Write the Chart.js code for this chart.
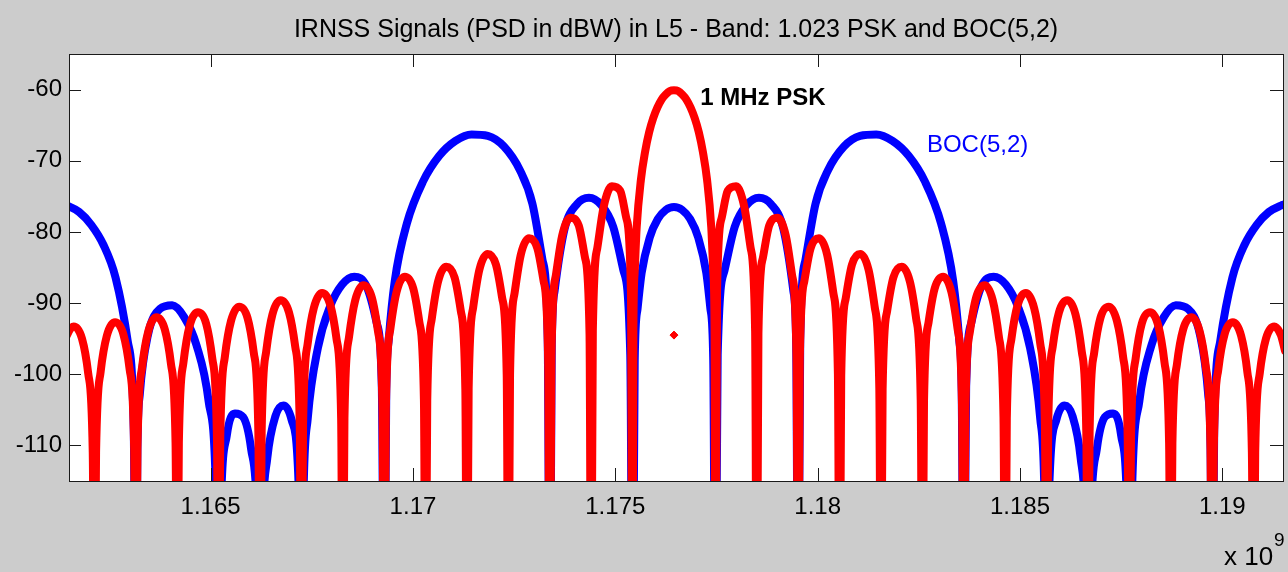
<!DOCTYPE html>
<html>
<head>
<meta charset="utf-8">
<title>IRNSS Signals PSD</title>
<script src="https://cdn.jsdelivr.net/npm/chart.js@4/dist/chart.umd.min.js"></script>
<style>
  html, body { margin: 0; padding: 0; background: #cccccc; }
  canvas { display: block; }
</style>
</head>
<body>
<canvas id="psdChart" width="1288" height="572"></canvas>
<script>
// L5 carrier, MHz
const carrierMHz = 1176.45;

// 1.023 MHz PSK: offset from carrier (MHz) and PSD (dBW); -140 = null below the axis
const pskOffsetMHz = [
  -15.099, -14.997, -14.834, -14.629, -14.475, -14.363, -14.322,
  -14.281, -14.169, -14.015, -13.811, -13.606, -13.452, -13.340, -13.299,
  -13.258, -13.146, -12.992, -12.788, -12.583, -12.429, -12.317, -12.276,
  -12.235, -12.123, -11.969, -11.765, -11.560, -11.406, -11.294, -11.253,
  -11.212, -11.100, -10.946, -10.742, -10.537, -10.383, -10.271, -10.230,
  -10.189, -10.077, -9.923, -9.719, -9.514, -9.360, -9.248, -9.207,
  -9.166, -9.054, -8.900, -8.696, -8.491, -8.337, -8.225, -8.184,
  -8.143, -8.031, -7.877, -7.673, -7.468, -7.314, -7.202, -7.161,
  -7.120, -7.008, -6.854, -6.650, -6.445, -6.291, -6.179, -6.138,
  -6.097, -5.985, -5.831, -5.627, -5.422, -5.268, -5.156, -5.115,
  -5.074, -4.962, -4.808, -4.604, -4.399, -4.245, -4.133, -4.092,
  -4.051, -3.939, -3.785, -3.581, -3.376, -3.222, -3.110, -3.069,
  -3.028, -2.916, -2.762, -2.558, -2.353, -2.199, -2.087, -2.046,
  -2.005, -1.893, -1.739, -1.535, -1.330, -1.176, -1.064, -1.023,
  -1.003, -0.972, -0.921, -0.818, -0.716, -0.614, -0.512, -0.409, -0.307, -0.205, -0.102,
  0,
  0.102, 0.205, 0.307, 0.409, 0.512, 0.614, 0.716, 0.818, 0.921, 0.972, 1.003,
  1.023, 1.064, 1.176, 1.330, 1.535, 1.739, 1.893, 2.005,
  2.046, 2.087, 2.199, 2.353, 2.558, 2.762, 2.916, 3.028,
  3.069, 3.110, 3.222, 3.376, 3.581, 3.785, 3.939, 4.051,
  4.092, 4.133, 4.245, 4.399, 4.604, 4.808, 4.962, 5.074,
  5.115, 5.156, 5.268, 5.422, 5.627, 5.831, 5.985, 6.097,
  6.138, 6.179, 6.291, 6.445, 6.650, 6.854, 7.008, 7.120,
  7.161, 7.202, 7.314, 7.468, 7.673, 7.877, 8.031, 8.143,
  8.184, 8.225, 8.337, 8.491, 8.696, 8.900, 9.054, 9.166,
  9.207, 9.248, 9.360, 9.514, 9.719, 9.923, 10.077, 10.189,
  10.230, 10.271, 10.383, 10.537, 10.742, 10.946, 11.100, 11.212,
  11.253, 11.294, 11.406, 11.560, 11.765, 11.969, 12.123, 12.235,
  12.276, 12.317, 12.429, 12.583, 12.788, 12.992, 13.146, 13.258,
  13.299, 13.340, 13.452, 13.606, 13.811, 14.015, 14.169, 14.281,
  14.322, 14.363, 14.475, 14.629, 14.834, 14.997, 15.099
];
const pskPsdDbw = [
  -96.7, -94.5, -93.3, -95.0, -99.9, -111.0, -140,
  -111.0, -99.7, -94.6, -92.7, -94.4, -99.3, -110.4, -140,
  -110.3, -99.1, -94.0, -92.0, -93.7, -98.6, -109.7, -140,
  -109.6, -98.4, -93.2, -91.3, -92.9, -97.9, -108.9, -140,
  -108.9, -97.6, -92.5, -90.5, -92.1, -97.0, -108.1, -140,
  -108.1, -96.8, -91.6, -89.6, -91.3, -96.1, -107.2, -140,
  -107.1, -95.8, -90.7, -88.6, -90.3, -95.1, -106.2, -140,
  -106.1, -94.8, -89.6, -87.5, -89.2, -94.0, -105.0, -140,
  -104.9, -93.6, -88.4, -86.3, -87.9, -92.7, -103.7, -140,
  -103.6, -92.2, -87.0, -84.9, -86.4, -91.1, -102.1, -140,
  -102.0, -90.6, -85.3, -83.1, -84.6, -89.3, -100.2, -140,
  -100.0, -88.6, -83.2, -80.9, -82.3, -86.9, -97.7, -140,
  -97.5, -86.0, -80.5, -78.0, -79.1, -83.6, -94.3, -140,
  -93.9, -82.2, -76.5, -73.6, -74.2, -78.1, -88.4, -140,
  -93.9, -85.7, -79.3, -72.7, -68.8, -66.0, -64.0, -62.5, -61.4, -60.7, -60.2,
  -60.1,
  -60.2, -60.7, -61.4, -62.5, -64.0, -66.0, -68.8, -72.7, -79.3, -85.7, -93.9,
  -140, -88.4, -78.1, -74.2, -73.6, -76.5, -82.2, -93.9,
  -140, -94.3, -83.6, -79.1, -78.0, -80.5, -86.0, -97.5,
  -140, -97.7, -86.9, -82.3, -80.9, -83.2, -88.6, -100.0,
  -140, -100.2, -89.3, -84.6, -83.1, -85.3, -90.6, -102.0,
  -140, -102.1, -91.1, -86.4, -84.9, -87.0, -92.2, -103.6,
  -140, -103.7, -92.7, -87.9, -86.3, -88.4, -93.6, -104.9,
  -140, -105.0, -94.0, -89.2, -87.5, -89.6, -94.8, -106.1,
  -140, -106.2, -95.1, -90.3, -88.6, -90.7, -95.8, -107.1,
  -140, -107.2, -96.1, -91.3, -89.6, -91.6, -96.8, -108.1,
  -140, -108.1, -97.0, -92.1, -90.5, -92.5, -97.6, -108.9,
  -140, -108.9, -97.9, -92.9, -91.3, -93.2, -98.4, -109.6,
  -140, -109.7, -98.6, -93.7, -92.0, -94.0, -99.1, -110.3,
  -140, -110.4, -99.3, -94.4, -92.7, -94.6, -99.7, -111.0,
  -140, -111.0, -99.9, -95.0, -93.3, -94.5, -96.7
];

// stray PSK sample seen under the main lobe
const pskStrayOffsetMHz = [0];
const pskStrayPsdDbw = [-94.5];

// BOC(5,2): offset from carrier (MHz) and PSD (dBW)
const bocOffsetMHz = [
  -15.1, -15.0, -14.7, -14.4, -14.1, -13.8, -13.5, -13.35, -13.299,
  -13.26, -13.2, -13.0, -12.7, -12.4, -12.1, -11.8, -11.5, -11.32, -11.253,
  -11.2, -11.05, -10.85, -10.65, -10.45, -10.3, -10.23,
  -10.17, -10.05, -9.85, -9.65, -9.45, -9.28, -9.207,
  -9.15, -9.05, -8.8, -8.5, -8.2, -7.9, -7.6, -7.35, -7.22, -7.161,
  -7.11, -7.05, -6.9, -6.6, -6.2, -5.8, -5.4, -5.0, -4.6, -4.2, -3.8, -3.5, -3.25, -3.12, -3.069,
  -3.02, -2.95, -2.7, -2.4, -2.1, -1.8, -1.5, -1.25, -1.08, -1.023,
  -0.97, -0.9, -0.8, -0.6, -0.4, -0.2, 0,
  0.2, 0.4, 0.6, 0.8, 0.9, 0.97,
  1.023, 1.08, 1.25, 1.5, 1.8, 2.1, 2.4, 2.7, 2.95, 3.02,
  3.069, 3.12, 3.25, 3.5, 3.8, 4.2, 4.6, 5.0, 5.4, 5.8, 6.2, 6.6, 6.9, 7.05, 7.11,
  7.161, 7.22, 7.35, 7.6, 7.9, 8.2, 8.5, 8.8, 9.05, 9.15,
  9.207, 9.28, 9.45, 9.65, 9.85, 10.05, 10.17,
  10.23, 10.3, 10.45, 10.65, 10.85, 11.05, 11.2,
  11.253, 11.32, 11.5, 11.8, 12.1, 12.4, 12.7, 13.0, 13.2, 13.26,
  13.299, 13.35, 13.5, 13.8, 14.1, 14.4, 14.7, 15.0, 15.1
];
const bocPsdDbw = [
  -76.1, -76.3, -77.2, -79.0, -81.8, -86.4, -95.3, -107.8, -140,
  -110.6, -102.8, -94.5, -90.8, -90.3, -92.0, -95.9, -103.8, -116.3, -140,
  -119.4, -108.6, -105.5, -106.0, -110.5, -119.9, -140,
  -121.0, -111.8, -105.9, -104.4, -106.4, -114.9, -140,
  -115.7, -106.2, -96.3, -90.5, -87.4, -86.3, -87.6, -92.7, -101.8, -140,
  -102.4, -95.2, -86.9, -78.8, -72.9, -69.3, -67.2, -66.3, -66.5, -68.0, -71.4, -76.0, -83.9, -95.2, -140,
  -95.8, -88.3, -79.5, -76.1, -75.2, -76.2, -79.3, -85.4, -97.3, -140,
  -98.0, -90.8, -85.8, -80.8, -78.2, -76.9, -76.5,
  -76.9, -78.2, -80.8, -85.8, -90.8, -98.0,
  -140, -97.3, -85.4, -79.3, -76.2, -75.2, -76.1, -79.5, -88.3, -95.8,
  -140, -95.2, -83.9, -76.0, -71.4, -68.0, -66.5, -66.3, -67.2, -69.3, -72.9, -78.8, -86.9, -95.2, -102.4,
  -140, -101.8, -92.7, -87.6, -86.3, -87.4, -90.5, -96.3, -106.2, -115.7,
  -140, -114.9, -106.4, -104.4, -105.9, -111.8, -121.0,
  -140, -119.9, -110.5, -106.0, -105.5, -108.6, -119.4,
  -140, -116.3, -103.8, -95.9, -92.0, -90.3, -90.8, -94.5, -102.8, -110.6,
  -140, -107.8, -95.3, -86.4, -81.8, -79.0, -77.2, -76.3, -76.1
];

// axes
const xTicks = [1165, 1170, 1175, 1180, 1185, 1190];
const xTickLabels = ['1.165', '1.17', '1.175', '1.18', '1.185', '1.19'];
const yTicks = [-110, -100, -90, -80, -70, -60];
const yTickLabels = ['-110', '-100', '-90', '-80', '-70', '-60'];

const chartTitle = 'IRNSS Signals (PSD in dBW) in L5 - Band: 1.023 PSK and BOC(5,2)';
const FONT = "'Liberation Sans', Arial, Helvetica, sans-serif";

// in-plot text labels, anchored in data units (MHz, dBW)
const textLabels = [
  { text: '1 MHz PSK', x: 1177.1, y: -61.2, color: '#000000', weight: 'bold' },
  { text: 'BOC(5,2)', x: 1182.7, y: -67.9, color: '#0000ff', weight: 'normal' }
];

function toPoints(offsets, values) {
  return offsets.map((o, i) => ({ x: carrierMHz + o, y: values[i] }));
}

const matlabFrame = {
  id: 'matlabFrame',
  beforeDraw(chart) {
    const ctx = chart.ctx, a = chart.chartArea;
    ctx.save();
    ctx.fillStyle = '#cccccc';
    ctx.fillRect(0, 0, chart.width, chart.height);
    ctx.fillStyle = '#ffffff';
    ctx.fillRect(a.left, a.top, a.right - a.left, a.bottom - a.top);
    ctx.restore();
  },
  afterDraw(chart) {
    const ctx = chart.ctx, a = chart.chartArea;
    const xs = chart.scales.x, ys = chart.scales.y;
    ctx.save();
    ctx.strokeStyle = '#1a1a1a';
    ctx.lineWidth = 1;
    ctx.strokeRect(a.left + 0.5, a.top + 0.5, a.right - a.left, a.bottom - a.top);
    ctx.beginPath();
    xTicks.forEach(v => {
      const p = Math.round(xs.getPixelForValue(v)) + 0.5;
      ctx.moveTo(p, a.bottom); ctx.lineTo(p, a.bottom - 13);
      ctx.moveTo(p, a.top); ctx.lineTo(p, a.top + 13);
    });
    yTicks.forEach(v => {
      const p = Math.round(ys.getPixelForValue(v)) + 0.5;
      ctx.moveTo(a.left, p); ctx.lineTo(a.left + 12, p);
      ctx.moveTo(a.right, p); ctx.lineTo(a.right - 13, p);
    });
    ctx.stroke();

    // title
    ctx.fillStyle = '#000000';
    ctx.font = '25px ' + FONT;
    ctx.textAlign = 'center';
    ctx.textBaseline = 'middle';
    ctx.fillText(chartTitle, (a.left + a.right) / 2, 30);

    // curve labels
    ctx.textAlign = 'left';
    textLabels.forEach(l => {
      ctx.fillStyle = l.color;
      ctx.font = l.weight + ' 24px ' + FONT;
      ctx.fillText(l.text, xs.getPixelForValue(l.x), ys.getPixelForValue(l.y));
    });

    // exponent of the x axis
    ctx.fillStyle = '#000000';
    ctx.textBaseline = 'alphabetic';
    ctx.font = '26px ' + FONT;
    ctx.fillText('x 10', a.right - 59, 565);
    ctx.font = '19px ' + FONT;
    ctx.fillText('9', a.right - 9, 546);
    ctx.restore();
  }
};

Chart.defaults.font.family = FONT;
Chart.defaults.font.size = 24;
Chart.defaults.color = '#000000';

const ctx = document.getElementById('psdChart').getContext('2d');
new Chart(ctx, {
  type: 'line',
  data: {
    datasets: [
      {
        label: '1 MHz PSK',
        data: toPoints(pskOffsetMHz, pskPsdDbw),
        borderColor: '#ff0000',
        borderWidth: 8,
        pointRadius: 0,
        cubicInterpolationMode: 'monotone',
        borderJoinStyle: 'round',
        borderCapStyle: 'round',
        clip: 0
      },
      {
        label: 'PSK stray sample',
        data: toPoints(pskStrayOffsetMHz, pskStrayPsdDbw),
        showLine: false,
        pointStyle: 'rectRot',
        pointRadius: 4,
        backgroundColor: '#ff0000',
        borderColor: '#ff0000',
        clip: 0
      },
      {
        label: 'BOC(5,2)',
        data: toPoints(bocOffsetMHz, bocPsdDbw),
        borderColor: '#0000ff',
        borderWidth: 8,
        pointRadius: 0,
        cubicInterpolationMode: 'monotone',
        borderJoinStyle: 'round',
        borderCapStyle: 'round',
        clip: 0
      }
    ]
  },
  options: {
    responsive: false,
    animation: false,
    layout: { padding: { top: 54, right: 0, bottom: 0, left: 0 } },
    plugins: {
      legend: { display: false },
      tooltip: { enabled: false },
      title: { display: false }
    },
    scales: {
      x: {
        type: 'linear',
        min: 1161.5,
        max: 1191.5,
        grid: { display: false, drawTicks: false },
        border: { display: false },
        afterBuildTicks: s => { s.ticks = xTicks.map(v => ({ value: v })); },
        afterFit: s => { s.height = 91; },
        ticks: {
          autoSkip: false,
          maxRotation: 0,
          padding: 12,
          callback: (v, i) => xTickLabels[i]
        }
      },
      y: {
        min: -115,
        max: -55,
        grid: { display: false, drawTicks: false },
        border: { display: false },
        afterBuildTicks: s => { s.ticks = yTicks.map(v => ({ value: v })); },
        afterFit: s => { s.width = 69; },
        ticks: {
          padding: 7,
          callback: (v, i) => yTickLabels[i]
        }
      }
    }
  },
  plugins: [matlabFrame]
});
</script>
</body>
</html>
